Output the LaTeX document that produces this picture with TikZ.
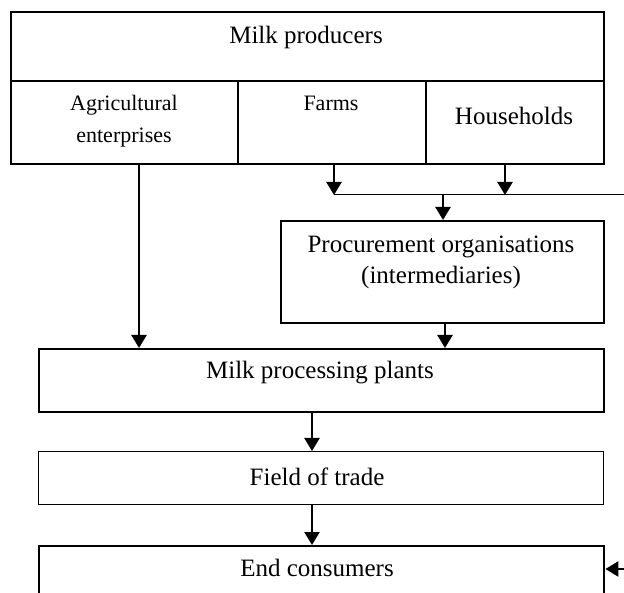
\documentclass[tikz,border=0pt]{standalone}
\usepackage{fontspec}
\setmainfont{Liberation Serif}
\usetikzlibrary{arrows.meta}
\begin{document}
\begin{tikzpicture}[x=1pt,y=-1pt,
  box/.style={draw, line width=2.4pt, rectangle, inner sep=0pt, anchor=north west},
  thinbox/.style={draw, line width=1.1pt, rectangle, inner sep=0pt, anchor=north west},
  txt/.style={inner sep=0pt, align=center, font=\fontsize{25}{31}\selectfont},
  smalltxt/.style={inner sep=0pt, align=center, font=\fontsize{22}{32}\selectfont},
  arr/.style={line width=2.4pt, -{Triangle[width=15pt,length=13pt]}},
  thinline/.style={line width=1pt}]
\clip (0,0) rectangle (624,593);
\fill[white] (0,0) rectangle (624,593);
% boxes
\node[box, minimum width=593pt, minimum height=69pt] (prod) at (10,11) {};
\node[box, minimum width=227pt, minimum height=83pt] (agri) at (10,80) {};
\node[box, minimum width=188pt, minimum height=83pt] (farm) at (237,80) {};
\node[box, minimum width=178pt, minimum height=83pt] (hh) at (425,80) {};
\node[box, minimum width=323pt, minimum height=102pt] (proc) at (280,220) {};
\node[box, minimum width=565pt, minimum height=63pt] (plant) at (38,348) {};
\node[thinbox, minimum width=565pt, minimum height=53pt] (trade) at (38,451) {};
\node[box, minimum width=565pt, minimum height=70pt] (cons) at (38,545) {};
% texts
\node[txt] (tprod) at (306,37) {Milk producers};
\node[smalltxt] (tagri) at (124,121) {Agricultural\\enterprises};
\node[smalltxt] (tfarm) at (331,103) {Farms};
\node[txt] (thh) at (514,116) {Households};
\node[txt] (tproc) at (441,262) {Procurement organisations\\(intermediaries)};
\node[txt] (tplant) at (320,373) {Milk processing plants};
\node[txt] (ttrade) at (317,477) {Field of trade};
\node[txt] (tcons) at (317,568) {End consumers};
% connectors
\coordinate (j) at (334,195);
\coordinate (jr) at (624,195);
\coordinate (hx) at (505,195);
\coordinate (pj) at (443,195);
\coordinate (ax) at (139,0);
\coordinate (px) at (445,0);
\coordinate (mx) at (312,0);
\coordinate (rc) at (624,569);
\draw[thinline] (j) -- (jr);
\draw[arr] (farm.south -| j) -- (j);
\draw[arr] (hh.south -| hx) -- (hx);
\draw[arr] (pj) -- (proc.north -| pj);
\draw[arr] (agri.south -| ax) -- (plant.north -| ax);
\draw[arr] (proc.south -| px) -- (plant.north -| px);
\draw[arr] (plant.south -| mx) -- (trade.north -| mx);
\draw[arr] (trade.south -| mx) -- (cons.north -| mx);
\draw[arr] (rc) -- (rc -| cons.east);
\end{tikzpicture}
\end{document}
